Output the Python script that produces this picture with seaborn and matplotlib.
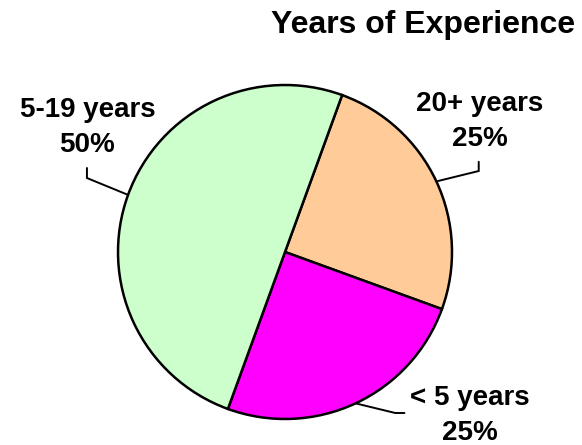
import numpy as np
import matplotlib
matplotlib.use("Agg")
import matplotlib.pyplot as plt
import seaborn as sns

# Pie data, clockwise from the top-right wedge
categories = ["20+ years", "< 5 years", "5-19 years"]
shares = [25, 25, 50]
colors = ["#FFCC99", "#FF00FF", "#CCFFCC"]

# Label placement (data units, pie radius = 1): last-line baseline, elbow of leader, end of leader
label_pos = {"20+ years": (1.168, 0.635), "< 5 years": (1.108, -1.126), "5-19 years": (-1.183, 0.601)}
elbow_pos = {"20+ years": (1.16, 0.485), "< 5 years": (0.66, -0.964), "5-19 years": (-1.186, 0.443)}
end_pos = {"20+ years": (1.16, 0.54), "< 5 years": (0.715, -0.964), "5-19 years": (-1.186, 0.503)}


def main():
    sns.set_theme(style="white")
    plt.rcParams["font.family"] = ["Liberation Sans", "DejaVu Sans"]

    W, H = 582, 445
    fig = plt.figure(figsize=(W / 100, H / 100), dpi=100)
    cx, cy, r = 285, 252, 167
    ax = fig.add_axes([(cx - r) / W, 1 - (cy + r) / H, 2 * r / W, 2 * r / H])

    wedges, _ = ax.pie(shares, colors=colors, startangle=70, counterclock=False,
                       wedgeprops=dict(edgecolor="black", linewidth=1.8))
    ax.set_xlim(-1, 1)
    ax.set_ylim(-1, 1)
    ax.set_aspect("equal")

    total = sum(shares)
    for w, name, val in zip(wedges, categories, shares):
        # leader starts at the middle of the wedge's arc
        mid = np.deg2rad((w.theta1 + w.theta2) / 2)
        x0, y0 = np.cos(mid), np.sin(mid)
        ex, ey = elbow_pos[name]
        fx, fy = end_pos[name]
        ax.plot([x0, ex, fx], [y0, ey, fy], color="black", lw=1.4, clip_on=False,
                solid_joinstyle="miter")
        tx, ty = label_pos[name]
        ax.text(tx, ty, f"{name}\n{val / total:.0%}", ha="center", va="baseline",
                multialignment="center", fontsize=20, fontweight="bold",
                linespacing=1.45, color="black", clip_on=False)

    fig.text(423.5 / W, 1 - 33 / H, "Years of Experience", ha="center", va="baseline",
             fontsize=23, fontweight="bold", color="black")

    fig.savefig("out.png", dpi=100, facecolor="white")
    plt.close(fig)


if __name__ == "__main__":
    main()
